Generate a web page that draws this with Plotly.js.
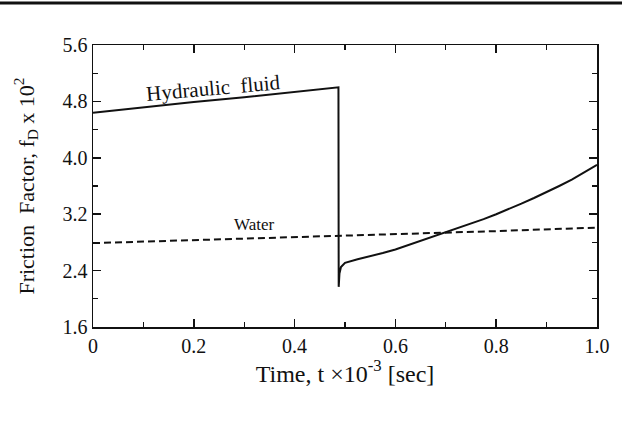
<!DOCTYPE html>
<html>
<head>
<meta charset="utf-8">
<script src="https://cdn.plot.ly/plotly-3.0.1.min.js"></script>
<style>body{margin:0;background:#fff;} #chart{width:622px;height:422px;}</style>
</head>
<body>
<div id="chart"></div>
<script>
// Hydraulic fluid curve
const hydT = [0, 0.1, 0.2, 0.3, 0.4, 0.487, 0.4875, 0.489, 0.492, 0.5, 0.525, 0.55, 0.575, 0.6, 0.625, 0.65, 0.675, 0.7, 0.725, 0.75, 0.775, 0.8, 0.825, 0.85, 0.875, 0.9, 0.925, 0.95, 0.975, 1.0];
const hydF = [4.64, 4.72, 4.79, 4.86, 4.93, 5.0, 2.17, 2.36, 2.45, 2.51, 2.56, 2.6, 2.65, 2.7, 2.76, 2.82, 2.88, 2.94, 3.0, 3.07, 3.13, 3.2, 3.27, 3.35, 3.43, 3.51, 3.6, 3.69, 3.79, 3.9];
// Water curve
const watT = [0, 0.2, 0.4, 0.6, 0.8, 1.0];
const watF = [2.79, 2.83, 2.87, 2.91, 2.96, 3.01];
const xTicks = [0, 0.2, 0.4, 0.6, 0.8, 1.0];
const xTickText = ['0', '0.2', '0.4', '0.6', '0.8', '1.0'];
const yTicks = [1.6, 2.4, 3.2, 4.0, 4.8, 5.6];
const yTickText = ['1.6', '2.4', '3.2', '4.0', '4.8', '5.6'];

const serif = "'Liberation Serif', 'Times New Roman', serif";
const traces = [
  {x: hydT, y: hydF, mode: 'lines', line: {color: '#111', width: 2}, name: 'Hydraulic fluid'},
  {x: watT, y: watF, mode: 'lines', line: {color: '#111', width: 2, dash: '7px,4px'}, name: 'Water'}
];
const axisCommon = {
  showgrid: false, zeroline: false, showline: true, linecolor: '#111', linewidth: 1.5,
  mirror: 'ticks', ticks: 'inside', ticklen: 8, tickwidth: 1.5, tickcolor: '#111',
  tickfont: {family: serif, size: 20, color: '#111'}
};
const layout = {
  width: 622, height: 422,
  margin: {l: 93, r: 25, t: 45, b: 95},
  paper_bgcolor: '#fff', plot_bgcolor: '#fff',
  showlegend: false,
  xaxis: Object.assign({}, axisCommon, {
    range: [0, 1.0], tickvals: xTicks, ticktext: xTickText,
    minor: {dtick: 0.1, ticks: 'inside', ticklen: 5, tickcolor: '#111', tickwidth: 1.2},
    title: {text: 'Time, t ×10<sup>-3</sup> [sec]', font: {family: serif, size: 24, color: '#111'}, standoff: 4}
  }),
  yaxis: Object.assign({}, axisCommon, {
    range: [1.6, 5.6], tickvals: yTicks, ticktext: yTickText,
    minor: {dtick: 0.4, ticks: 'inside', ticklen: 5, tickcolor: '#111', tickwidth: 1.2},
    title: {text: 'Friction  Factor, f<sub>D</sub> x 10<sup>2</sup>', font: {family: serif, size: 22, color: '#111'}, standoff: 22}
  }),
  annotations: [
    {x: 0.24, y: 4.99, xref: 'x', yref: 'y', text: 'Hydraulic  fluid', showarrow: false,
     textangle: -5, font: {family: serif, size: 21, color: '#111'}},
    {x: 0.32, y: 3.05, xref: 'x', yref: 'y', text: 'Water', showarrow: false,
     font: {family: serif, size: 17, color: '#111'}}
  ],
  shapes: [
    {type: 'line', xref: 'paper', yref: 'paper', x0: -0.19, x1: 1.06, y0: 1.149, y1: 1.149,
     line: {color: '#111', width: 3}}
  ]
};
Plotly.newPlot('chart', traces, layout, {displayModeBar: false, staticPlot: true});
</script>
</body>
</html>
